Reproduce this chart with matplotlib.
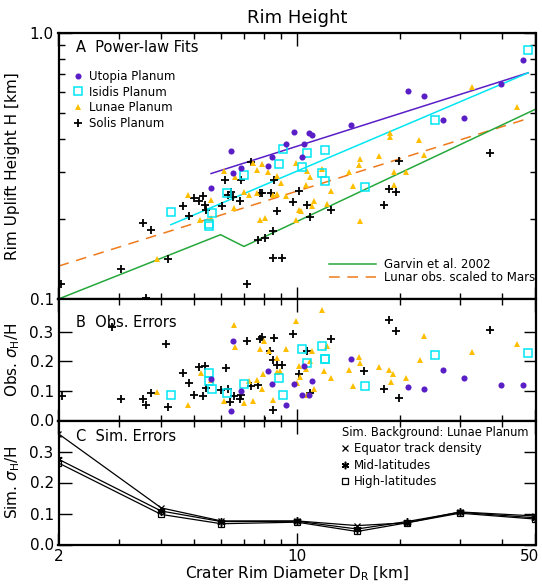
import numpy as np
import matplotlib
matplotlib.use("Agg")
import matplotlib.pyplot as plt
import matplotlib.transforms as mtransforms
from matplotlib.ticker import FixedLocator, FixedFormatter, NullFormatter

# ---- values ----
# Utopia Planum (same craters in panel A and B)
utopia_d = [5.60, 6.39, 6.49, 6.85, 8.25, 8.43, 9.27, 9.82, 10.31, 10.47,
            10.82, 11.07, 14.40, 21.2, 23.6, 26.8, 30.9, 39.6, 46.0]
utopia_h = [0.261, 0.360, 0.297, 0.310, 0.316, 0.343, 0.381, 0.424, 0.343, 0.384,
            0.419, 0.414, 0.451, 0.603, 0.580, 0.469, 0.480, 0.641, 0.791]
utopia_err = [0.139, 0.033, 0.267, 0.098, 0.168, 0.123, 0.053, 0.123, 0.085, 0.184,
              0.085, 0.132, 0.208, 0.112, 0.105, 0.170, 0.145, 0.121, 0.119]

# Isidis Planum
isidis_d = [4.27, 5.51, 5.51, 5.62, 6.22, 6.99, 8.87, 9.12, 10.34, 10.72,
            11.86, 12.08, 12.08, 15.79, 25.3, 47.6]
isidis_h = [0.212, 0.192, 0.188, 0.210, 0.250, 0.292, 0.321, 0.367, 0.313, 0.353,
            0.297, 0.278, 0.363, 0.263, 0.469, 0.865]
isidis_err = [0.086, 0.132, 0.159, 0.107, 0.092, 0.123, 0.142, 0.087, 0.242, 0.194,
              0.253, 0.208, 0.208, 0.117, 0.222, 0.227]

# Lunae Planum, panel A
lunae_d = [3.89, 4.79, 5.19, 5.60, 5.61, 6.10, 6.54, 6.58, 7.01, 7.25,
           7.45, 7.65, 7.65, 7.81, 7.88, 8.04, 8.24, 8.52, 8.72, 8.74,
           8.96, 9.27, 9.93, 9.95, 10.12, 10.25, 10.63, 10.68, 10.90, 11.07,
           11.24, 11.84, 12.22, 12.58, 14.23, 14.56, 15.22, 15.30, 15.30, 17.39,
           18.69, 18.77, 19.20, 19.28, 20.91, 22.78, 23.51, 32.5, 44.1]
lunae_h = [0.141, 0.247, 0.198, 0.236, 0.202, 0.304, 0.220, 0.288, 0.253, 0.246,
           0.325, 0.305, 0.251, 0.198, 0.322, 0.202, 0.299, 0.245, 0.249, 0.289,
           0.273, 0.243, 0.198, 0.325, 0.217, 0.214, 0.268, 0.303, 0.288, 0.223,
           0.234, 0.307, 0.227, 0.255, 0.299, 0.267, 0.318, 0.336, 0.196, 0.346,
           0.420, 0.405, 0.301, 0.268, 0.299, 0.395, 0.348, 0.628, 0.525]
# Lunae Planum, panel B
lunae_err_d = [3.89, 4.80, 5.22, 5.58, 6.10, 6.52, 6.57, 7.01, 7.23, 7.42,
               7.63, 7.81, 7.88, 7.95, 8.02, 8.26, 8.51, 8.72, 8.74, 8.90,
               9.28, 9.91, 9.98, 10.12, 10.21, 10.63, 10.68, 10.92, 11.04, 11.22,
               11.82, 12.03, 12.22, 12.58, 14.23, 14.56, 15.20, 15.30, 17.39, 18.64,
               18.82, 19.15, 20.91, 22.89, 23.51, 32.5, 44.1]
lunae_err = [0.095, 0.053, 0.160, 0.136, 0.065, 0.323, 0.249, 0.060, 0.132, 0.067,
             0.136, 0.242, 0.105, 0.157, 0.267, 0.235, 0.069, 0.210, 0.163, 0.168,
             0.242, 0.337, 0.127, 0.185, 0.146, 0.174, 0.085, 0.201, 0.236, 0.107,
             0.374, 0.168, 0.252, 0.143, 0.170, 0.117, 0.213, 0.193, 0.180, 0.171,
             0.130, 0.156, 0.142, 0.203, 0.286, 0.230, 0.258]

# Solis Planum, panel A
solis_d = [2.04, 3.05, 3.53, 3.60, 3.73, 4.18, 4.63, 4.82, 4.98, 5.15,
           5.30, 5.36, 5.41, 6.03, 6.15, 6.29, 6.39, 6.51, 6.82, 6.85,
           7.14, 7.33, 7.69, 7.79, 7.90, 8.04, 8.37, 8.51, 8.51, 8.58,
           8.72, 9.06, 9.76, 10.14, 10.68, 10.92, 12.60, 17.99, 18.60, 19.50,
           19.86, 36.9]
solis_h = [0.114, 0.130, 0.193, 0.101, 0.182, 0.141, 0.223, 0.206, 0.239, 0.234,
           0.244, 0.226, 0.217, 0.224, 0.280, 0.245, 0.253, 0.242, 0.234, 0.280,
           0.114, 0.326, 0.167, 0.251, 0.251, 0.169, 0.251, 0.180, 0.143, 0.279,
           0.214, 0.143, 0.232, 0.254, 0.226, 0.203, 0.217, 0.225, 0.259, 0.252,
           0.330, 0.354]
# Solis Planum, panel B
solis_err_d = [2.05, 2.87, 3.05, 3.53, 3.60, 3.73, 4.14, 4.20, 4.64, 4.83,
               4.98, 5.15, 5.30, 5.36, 5.42, 5.99, 6.18, 6.26, 6.38, 6.52,
               6.81, 6.85, 7.14, 7.33, 7.70, 7.78, 7.88, 8.06, 8.34, 8.49,
               8.51, 8.58, 8.74, 9.06, 9.76, 10.12, 10.72, 10.92, 12.60, 15.72,
               17.95, 18.57, 19.50, 19.86, 36.9]
solis_err = [0.081, 0.317, 0.073, 0.071, 0.051, 0.093, 0.258, 0.046, 0.159, 0.125,
             0.087, 0.179, 0.084, 0.185, 0.109, 0.104, 0.178, 0.105, 0.061, 0.084,
             0.073, 0.087, 0.269, 0.116, 0.119, 0.274, 0.281, 0.000, 0.236, 0.205,
             0.036, 0.280, 0.186, 0.186, 0.292, 0.157, 0.233, 0.094, 0.274, 0.166,
             0.105, 0.338, 0.301, 0.077, 0.307]

# power-law fits H = a * D^b  (a, b, Dmin, Dmax)
utopia_fit = (0.1468, 0.4075, 5.60, 47.6)
isidis_fit = (0.0862, 0.5453, 4.27, 47.6)
lunar_fit = (0.1005, 0.4033, 2.0, 47.6)
# Garvin et al. 2002 (simple / complex transition)
garvin_d = [2.0, 5.97, 6.99, 50.0]
garvin_h = [0.100, 0.1745, 0.1576, 0.517]

# simulated errors (panel C)
sim_d = [2, 4, 6, 10, 15, 21, 30, 50]
sim_equator = [0.357, 0.118, 0.076, 0.076, 0.061, 0.070, 0.105, 0.092]
sim_mid = [0.275, 0.108, 0.074, 0.075, 0.050, 0.074, 0.104, 0.086]
sim_high = [0.263, 0.097, 0.067, 0.072, 0.042, 0.070, 0.101, 0.082]

purple = '#5a1ec6'
cyan = '#00e6f2'
gold = '#ffbf00'
green = '#25a83c'
orange = '#f07a1a'

W, H = 542, 584
fig = plt.figure(figsize=(W / 100, H / 100), dpi=100)


def box(x0, y0, x1, y1):
    return [x0 / W, 1 - y1 / H, (x1 - x0) / W, (y1 - y0) / H]


axA = fig.add_axes(box(58.5, 33, 535.5, 299))
axB = fig.add_axes(box(58.5, 299, 535.5, 420.5), sharex=axA)
axC = fig.add_axes(box(58.5, 420.5, 535.5, 544.5), sharex=axA)


def fit_line(ax, fit, **kw):
    a, b, d0, d1 = fit
    d = np.geomspace(d0, d1, 60)
    return ax.plot(d, a * d ** b, **kw)[0]


# symbol styles
sty_sol = dict(marker='+', color='black', ms=6, mew=1.3, ls='none')
sty_lun = dict(marker='^', color=gold, ms=5, mew=0, ls='none')
sty_isi = dict(marker='s', mfc='none', mec=cyan, ms=5.2, mew=1.1, ls='none')
sty_uto = dict(marker='o', color=purple, ms=4.4, mew=0, ls='none')

# ---- panel A ----
fit_line(axA, utopia_fit, color=purple, lw=1.1)
fit_line(axA, isidis_fit, color=cyan, lw=1.1)
l_lun = fit_line(axA, lunar_fit, color=orange, lw=1.1, dashes=(7, 5))
l_gar, = axA.plot(garvin_d, garvin_h, color=green, lw=1.1)

p_sol, = axA.plot(solis_d, solis_h, **sty_sol)
p_lun, = axA.plot(lunae_d, lunae_h, **sty_lun)
p_isi, = axA.plot(isidis_d, isidis_h, **sty_isi)
p_uto, = axA.plot(utopia_d, utopia_h, **sty_uto)

axA.set_xscale('log')
axA.set_yscale('log')
axA.set_xlim(2, 50)
axA.set_ylim(0.1, 1.0)

leg1 = axA.legend([p_uto, p_isi, p_lun, p_sol],
                  ['Utopia Planum', 'Isidis Planum', 'Lunae Planum', 'Solis Planum'],
                  loc='upper left', bbox_to_anchor=(0.03, 0.862), frameon=False,
                  fontsize=8.5, handlelength=0.9, handletextpad=0.5,
                  labelspacing=0.24, borderpad=0, borderaxespad=0, numpoints=1)
axA.add_artist(leg1)
axA.legend([l_gar, l_lun], ['Garvin et al. 2002', 'Lunar obs. scaled to Mars'],
           loc='lower right', bbox_to_anchor=(1.0, 0.055), frameon=False,
           fontsize=8.5, handlelength=4.0, handletextpad=0.7,
           labelspacing=0.0, borderpad=0, borderaxespad=0)
axA.text(0.037, 0.947, 'A  Power-law Fits', transform=axA.transAxes,
         fontsize=10.5, va='center', ha='left')

# ---- panel B ----
axB.plot(solis_err_d, solis_err, clip_on=False, **sty_sol)
axB.plot(lunae_err_d, lunae_err, **sty_lun)
axB.plot(isidis_d, isidis_err, **sty_isi)
axB.plot(utopia_d, utopia_err, **sty_uto)
axB.set_ylim(0, 0.41)
axB.text(0.037, 0.81, 'B  Obs. Errors', transform=axB.transAxes,
         fontsize=10.5, va='center', ha='left')

# ---- panel C ----
c_eq, = axC.plot(sim_d, sim_equator, color='black', lw=0.9, marker='x', ms=5, mew=0.9)
c_mid, = axC.plot(sim_d, sim_mid, color='black', lw=0.9, marker=(6, 2, 0), ms=6, mew=1.1)
c_hi, = axC.plot(sim_d, sim_high, color='black', lw=0.9, marker='s', mfc='none', ms=5, mew=0.9)
axC.set_ylim(0, 0.4)
axC.text(0.037, 0.87, 'C  Sim. Errors', transform=axC.transAxes,
         fontsize=10.5, va='center', ha='left')
axC.text(0.985, 0.905, 'Sim. Background: Lunae Planum', transform=axC.transAxes,
         fontsize=8.3, va='center', ha='right')
axC.legend([c_eq, c_mid, c_hi],
           ['Equator track density', 'Mid-latitudes', 'High-latitudes'],
           loc='upper left', bbox_to_anchor=(0.6, 0.825), frameon=False,
           fontsize=8.5, handlelength=0, handletextpad=0.8, labelspacing=0.3,
           borderpad=0, borderaxespad=0, numpoints=1, markerscale=0.9)

# ---- axes styling ----
for ax in (axA, axB, axC):
    ax.xaxis.set_major_locator(FixedLocator([2, 10, 50]))
    ax.xaxis.set_minor_locator(FixedLocator([3, 4, 5, 6, 7, 8, 9, 20, 30, 40]))
    ax.xaxis.set_minor_formatter(NullFormatter())
    ax.tick_params(which='both', direction='in', top=True, right=True, labelsize=11)
    ax.tick_params(which='major', length=9, width=1)
    ax.tick_params(which='minor', length=4.5, width=1)
    for s in ax.spines.values():
        s.set_linewidth(1.6)

axA.yaxis.set_major_locator(FixedLocator([0.1, 1.0]))
axA.yaxis.set_major_formatter(FixedFormatter(['0.1', '1.0']))
axA.yaxis.set_minor_locator(FixedLocator([0.2, 0.3, 0.4, 0.5, 0.6, 0.7, 0.8, 0.9]))
axA.yaxis.set_minor_formatter(NullFormatter())
for ax in (axB, axC):
    ax.yaxis.set_major_locator(FixedLocator([0.0, 0.1, 0.2, 0.3]))
    ax.yaxis.set_major_formatter(FixedFormatter(['0.0', '0.1', '0.2', '0.3']))
    ax.yaxis.set_minor_locator(FixedLocator([]))
axA.tick_params(axis='x', labelbottom=False)
axB.tick_params(axis='x', labelbottom=False)
axC.xaxis.set_major_formatter(FixedFormatter(['2', '10', '50']))

# keep the "50" label inside the picture, as in the reference
fig.canvas.draw()
lab50 = axC.get_xticklabels()[-1]
lab50.set_ha('right')
lab50.set_transform(lab50.get_transform() +
                    mtransforms.ScaledTranslation(4 / 100, 0, fig.dpi_scale_trans))

fig.text(297 / W, 1 - 18 / H, 'Rim Height', ha='center', va='center', fontsize=13)
fig.text(13 / W, 1 - 166 / H, 'Rim Uplift Height H [km]', rotation=90,
         ha='center', va='center', fontsize=11)
fig.text(13 / W, 1 - 360 / H, r'Obs. $\sigma_{\rm H}$/H', rotation=90,
         ha='center', va='center', fontsize=11)
fig.text(13 / W, 1 - 482 / H, r'Sim. $\sigma_{\rm H}$/H', rotation=90,
         ha='center', va='center', fontsize=11)
fig.text(297 / W, 1 - 574 / H, r'Crater Rim Diameter D$_{\rm R}$ [km]',
         ha='center', va='center', fontsize=11)

fig.savefig('out.png', dpi=100)
